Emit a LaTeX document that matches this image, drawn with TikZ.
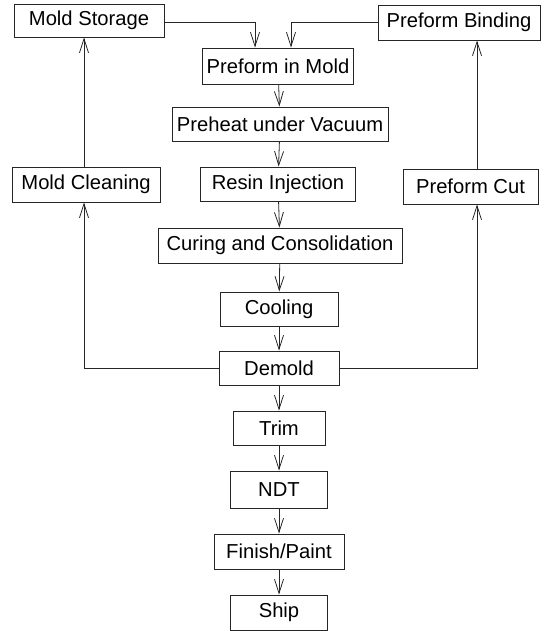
\documentclass[tikz,border=0pt]{standalone}
\usepackage{fontspec}
\setmainfont{Liberation Sans}
\usetikzlibrary{arrows.meta}
\begin{document}
\begin{tikzpicture}[x=1pt,y=-1pt,
  stepbox/.style={draw=black!85, line width=0.9pt, rectangle, inner sep=0pt,
    font=\fontsize{20.2}{22}\selectfont, text=black},
  flow/.style={draw=black!85, line width=0.8pt, -{Straight Barb[length=14pt,width=9pt,line width=0.8pt]}},
  link/.style={draw=black!85, line width=0.8pt}]
\useasboundingbox (0,0) rectangle (550,631);

% main process column
\node[stepbox, minimum width=151pt, minimum height=36pt] (pm) at (278,66)    {Preform in Mold};
\node[stepbox, minimum width=216pt, minimum height=34pt] (ph) at (280,124)   {Preheat under Vacuum};
\node[stepbox, minimum width=155pt, minimum height=34pt] (ri) at (278,184)   {Resin Injection};
\node[stepbox, minimum width=244pt, minimum height=35pt] (cc) at (280,245.5) {Curing and Consolidation};
\node[stepbox, minimum width=118pt, minimum height=34pt] (co) at (279,309)   {Cooling};
\node[stepbox, minimum width=120pt, minimum height=34pt] (de) at (279,368)   {Demold};
\node[stepbox, minimum width=92pt,  minimum height=34pt] (tr) at (279,428)   {Trim};
\node[stepbox, minimum width=97pt,  minimum height=37pt] (nd) at (279,489.5) {NDT};
\node[stepbox, minimum width=130pt, minimum height=35pt] (fp) at (279,551.5) {Finish/Paint};
\node[stepbox, minimum width=97pt,  minimum height=35pt] (sh) at (279,612.5) {Ship};

% mold loop (left) and preform loop (right)
\node[stepbox, minimum width=150pt, minimum height=33pt] (ms) at (89,20.5)   {Mold Storage};
\node[stepbox, minimum width=148pt, minimum height=35pt] (mc) at (86,184.5)  {Mold Cleaning};
\node[stepbox, minimum width=162pt, minimum height=35pt] (pb) at (459,22.5)  {Preform Binding};
\node[stepbox, minimum width=135pt, minimum height=35pt] (pc) at (470.5,186.5) {Preform Cut};

% routing lines for the side loops and the two inputs
\coordinate (lx) at (84,0);
\coordinate (rx) at (477,0);
\coordinate (inL) at (255,0);
\coordinate (inR) at (291,0);

% main flow
\draw[flow] (pm) -- (ph);
\draw[flow] (ph) -- (ri);
\draw[flow] (ri) -- (cc);
\draw[flow] (cc) -- (co);
\draw[flow] (co) -- (de);
\draw[flow] (de) -- (tr);
\draw[flow] (tr) -- (nd);
\draw[flow] (nd) -- (fp);
\draw[flow] (fp) -- (sh);

% inputs into the mold
\draw[flow] (ms.east |- 0,22) -| (inL |- pm.north);
\draw[flow] (pb.west |- 0,22) -| (inR |- pm.north);

% mold return loop
\draw[flow] (de.west) -| (lx |- mc.south);
\draw[flow] (lx |- mc.north) -- (lx |- ms.south);

% preform loop
\draw[flow] (de.east) -| (rx |- pc.south);
\draw[flow] (rx |- pc.north) -- (rx |- pb.south);
\end{tikzpicture}
\end{document}
